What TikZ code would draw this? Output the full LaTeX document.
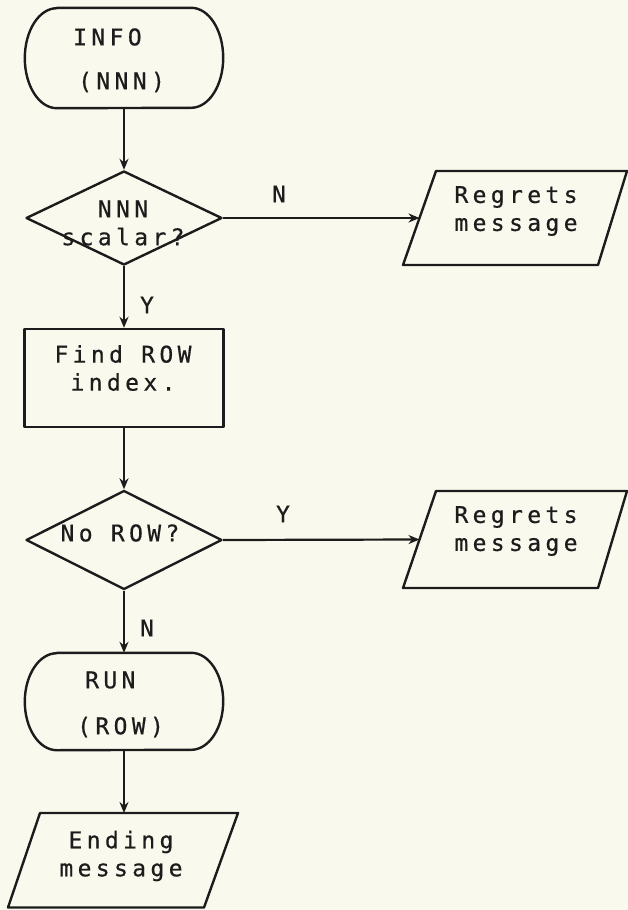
\documentclass[tikz,border=0pt]{standalone}
\usepackage{fontspec}
\usetikzlibrary{arrows.meta,shapes.geometric,calc}
\newfontfamily\plotfont[LetterSpace=19,FakeBold=0.6]{DejaVu Sans Mono}
\definecolor{paper}{RGB}{250,249,237}
\definecolor{ink}{RGB}{28,28,28}
\begin{document}
\begin{tikzpicture}[x=1pt,y=-1pt,
  every node/.style={font=\plotfont\fontsize{23}{28}\selectfont, text=ink, inner sep=0pt},
  outline/.style={draw=ink, line width=2.4pt, line join=round},
  flow/.style={draw=ink, line width=2.2pt, -{Stealth[length=11pt,width=9pt]}},
  termbox/.style={rectangle, draw=none, minimum width=198pt, minimum height=#1},
  decision/.style={diamond, outline, minimum width=196pt, minimum height=#1},
  process/.style={rectangle, outline, minimum width=199pt, minimum height=98pt},
  txt/.style={align=center},
  lbl/.style={}
]
% paper
\fill[paper] (0,0) rectangle (628,910);
\useasboundingbox (0,0) rectangle (628,910);

% start terminal
\node[termbox=100pt] (info) at (124,58) {};
\draw[outline] ($(info.north west)+(32,0)$) -- ($(info.north east)+(-32,0)$)
  arc[start angle=90,end angle=-90,x radius=32pt,y radius=50pt]
  -- ($(info.south west)+(32,0)$)
  arc[start angle=270,end angle=90,x radius=32pt,y radius=50pt] -- cycle;
\node[anchor=west] (infoA) at (73,37) {INFO};
\node[anchor=west] (infoB) at (78,82) {(NNN)};

% first test
\node[decision=94pt] (d1) at (124,218) {};
\node[txt] (d1t) at (123,223) {NNN\\scalar?};

% first regrets output
\draw[outline] (436,171) -- (627,171) -- (598,265) -- (403,265) -- cycle;
\coordinate (p1in) at (419.5,218);
\node[txt] (p1t) at (516,211) {Regrets\\message};

% lookup
\node[process] (find) at (124,378) {};
\node[txt] (findt) at (123,368) {Find ROW\\index.};

% second test
\node[decision=99pt] (d2) at (124,540) {};
\node (d2t) at (120,533) {No ROW?};

% second regrets output
\draw[outline] (436,491) -- (627,491) -- (598,588) -- (403,588) -- cycle;
\coordinate (p2in) at (419.5,539.5);
\node[txt] (p2t) at (516,531) {Regrets\\message};

% run terminal
\node[termbox=97pt] (run) at (124,701.5) {};
\draw[outline] ($(run.north west)+(32,0)$) -- ($(run.north east)+(-32,0)$)
  arc[start angle=90,end angle=-90,x radius=32pt,y radius=48.5pt]
  -- ($(run.south west)+(32,0)$)
  arc[start angle=270,end angle=90,x radius=32pt,y radius=48.5pt] -- cycle;
\node[anchor=west] (runA) at (85,680) {RUN};
\node[anchor=west] (runB) at (77,727) {(ROW)};

% ending output
\draw[outline] (40,813) -- (238,813) -- (204,907.5) -- (8,907.5) -- cycle;
\coordinate (endin) at (124,813);
\node[txt] (endt) at (121,856) {Ending\\message};

% connectors
\draw[flow] (info.south) -- (d1.north);
\draw[flow] (d1.east) -- (p1in);
\draw[flow] (d1.south) -- (find.north);
\draw[flow] (find.south) -- (d2.north);
\draw[flow] (d2.east) -- (p2in);
\draw[flow] (d2.south) -- (run.north);
\draw[flow] (run.south) -- (endin);

% branch labels
\node[lbl] (n1) at (279,194) {N};
\node[lbl] (y1) at (147,305) {Y};
\node[lbl] (y2) at (283,514) {Y};
\node[lbl] (n2) at (147,628) {N};
\end{tikzpicture}
\end{document}
